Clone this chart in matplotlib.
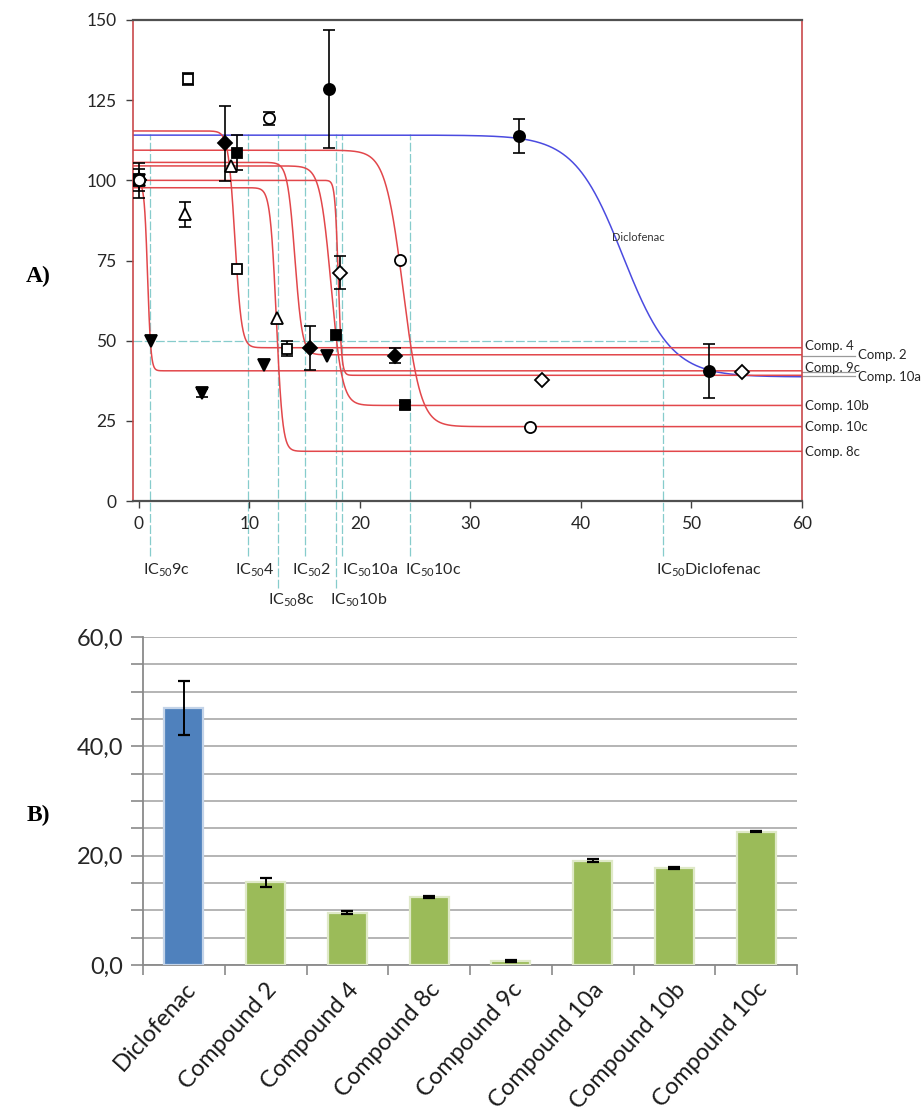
import numpy as np
import matplotlib
matplotlib.use("Agg")
import matplotlib.pyplot as plt
from matplotlib.ticker import FuncFormatter

plt.rcParams["font.family"] = ["Lato", "DejaVu Sans"]
plt.rcParams["mathtext.fontset"] = "custom"
plt.rcParams["mathtext.rm"] = "Lato"
plt.rcParams["mathtext.it"] = "Lato:italic"
plt.rcParams["mathtext.bf"] = "Lato:bold"

# ---------------- data ----------------
names = ["Diclofenac", "2", "4", "8c", "9c", "10a", "10b", "10c"]
bar_labels = ["Diclofenac", "Compound 2", "Compound 4", "Compound 8c",
              "Compound 9c", "Compound 10a", "Compound 10b", "Compound 10c"]

# measured points (concentration, % response, SD)
dic_x = [0, 17.2, 34.4, 51.6]
dic_y = [100, 128.4, 113.9, 40.6]
dic_e = [5.5, 18.4, 5.3, 8.5]

c2_x = [0, 7.8, 15.5, 23.2]
c2_y = [100, 111.5, 47.7, 45.3]
c2_e = [0, 11.7, 6.8, 2.3]

c4_x = [0, 4.5, 8.9, 13.4]
c4_y = [100, 131.6, 72.4, 47.5]
c4_e = [0, 1.9, 0, 2.4]

c8c_x = [0, 4.2, 8.35, 12.5]
c8c_y = [100, 89.4, 104.5, 57.1]
c8c_e = [0, 3.9, 0, 0]

c9c_x = [0, 1.07, 5.7, 11.3, 17.06]
c9c_y = [100, 49.8, 33.6, 42.5, 45.3]
c9c_e = [0, 0, 1.2, 0, 0]

c10a_x = [0, 18.2, 36.5, 54.6]
c10a_y = [100, 71.2, 37.8, 40.1]
c10a_e = [0, 5.2, 0, 0]

c10b_x = [0, 8.9, 17.85, 24.1]
c10b_y = [100, 108.6, 51.9, 29.8]
c10b_e = [0, 5.5, 0, 1.0]

c10c_x = [0, 11.8, 23.6, 35.4]
c10c_y = [100, 119.3, 75.1, 23.1]
c10c_e = [3.4, 2.0, 0, 0]

# fitted sigmoid parameters (top, bottom, midpoint, slope width)
fit_top = [114.1, 105.6, 115.4, 97.7, 99.5, 100.0, 104.5, 109.4]
fit_bottom = [38.7, 45.6, 47.8, 15.5, 40.6, 39.2, 29.8, 23.2]
fit_mid = [43.8, 14.13, 8.7, 12.45, 0.8, 18.05, 17.4, 23.9]
fit_width = [2.2, 0.335, 0.3, 0.28, 0.15, 0.15, 0.5, 0.8]

# IC50 marks on the dose-response plot
ic50_marks = [47.4, 15.0, 9.9, 12.6, 1.05, 18.4, 17.8, 24.5]

# IC50 summary (mean, SD)
ic50_mean = [47.0, 15.1, 9.6, 12.4, 0.8, 19.1, 17.7, 24.4]
ic50_sd = [5.0, 0.85, 0.2, 0.15, 0.2, 0.3, 0.15, 0.15]

# ---------------- styles / layout ----------------
series = [
    (dic_x, dic_y, dic_e, "o", "black", 8.0),
    (c2_x, c2_y, c2_e, "D", "black", 7.0),
    (c4_x, c4_y, c4_e, "s", "white", 7.5),
    (c8c_x, c8c_y, c8c_e, "^", "white", 8.0),
    (c9c_x, c9c_y, c9c_e, "v", "black", 8.0),
    (c10a_x, c10a_y, c10a_e, "D", "white", 7.0),
    (c10b_x, c10b_y, c10b_e, "s", "black", 7.5),
    (c10c_x, c10c_y, c10c_e, "o", "white", 8.0),
]
draw_order = [0, 1, 2, 3, 4, 5, 6, 7]

# right-hand curve labels: (pixel x offset, pixel y offset, leader line)
curve_tags = {"2": (56, 0, True), "4": (3, 2, False), "8c": (3, -1, False),
              "9c": (3, 3, True), "10a": (56, -2, True), "10b": (3, -1, False),
              "10c": (3, 0, False)}
# IC50 labels under the axis: (pixel x offset of text start, row)
ic_tags = {"Diclofenac": (-7, 0), "2": (-12.7, 0), "4": (-13.3, 0), "8c": (-10.3, 1),
           "9c": (-7.7, 0), "10a": (0, 0), "10b": (-5.3, 1), "10c": (-4.3, 0)}

W, H = 924, 1115
fig = plt.figure(figsize=(W / 100, H / 100), dpi=100)
fig.patch.set_facecolor("white")

RED = "#e2474b"
BLUE = "#4b4be0"
CYAN = "#86cccc"

# ================= panel A =================
axA = fig.add_axes([133 / W, 1 - 501 / H, (802 - 133) / W, (501 - 20) / H])
axA.set_xlim(-0.52, 60)
axA.set_ylim(0, 150)
px_per_y = (501 - 20) / 150.0

xx = np.linspace(-0.52, 60, 4000)
for i, n in enumerate(names):
    arg = np.clip((xx - fit_mid[i]) / fit_width[i], -60, 60)
    yy = fit_bottom[i] + (fit_top[i] - fit_bottom[i]) / (1 + np.exp(arg))
    axA.plot(xx, yy, color=BLUE if i == 0 else RED, lw=1.1, zorder=2)

# reference lines at 50 % and IC50 positions
axA.plot([-0.52, ic50_marks[0]], [50, 50], color=CYAN, lw=0.9,
         dashes=(7, 2), zorder=1)
for i, n in enumerate(names):
    dx, row = ic_tags[n]
    y_low = -(556 - 501) / px_per_y if row == 0 else -(588 - 501) / px_per_y
    y_high = 50 if i == 0 else fit_top[0] + 0.3
    axA.plot([ic50_marks[i]] * 2, [y_low, y_high], color=CYAN, lw=0.9,
             dashes=(7, 2), zorder=1, clip_on=False)
    ty = -(570 - 501) / px_per_y if row == 0 else -(600 - 501) / px_per_y
    axA.annotate(r"IC$_{\mathrm{50}}$" + n, xy=(ic50_marks[i], ty),
                 xytext=(dx, 0), textcoords="offset pixels",
                 ha="left", va="center", fontsize=11.5, color="#262626",
                 annotation_clip=False)

# points with error bars
for i in draw_order:
    x, y, e, mk, fc, ms = series[i]
    x = np.asarray(x); y = np.asarray(y); e = np.asarray(e)
    has = e > 0
    if has.any():
        axA.errorbar(x[has], y[has], yerr=e[has], fmt="none", ecolor="black",
                     elinewidth=1.2, capsize=4.5, capthick=1.2, zorder=4)
    axA.plot(x, y, linestyle="none", marker=mk, mfc=fc, mec="black",
             mew=1.3, ms=ms, zorder=5)

# curve labels at the right edge
for i, n in enumerate(names):
    if n == "Diclofenac":
        continue
    dx, dy, leader = curve_tags[n]
    yb = fit_bottom[i]
    if leader:
        axA.plot([60, 60 + 53 / 11.05], [yb - 0.3, yb - 0.3], color="#9a9a9a",
                 lw=0.9, clip_on=False, zorder=1)
    axA.annotate("Comp. " + n, xy=(60, yb), xytext=(dx, dy),
                 textcoords="offset pixels", ha="left", va="center",
                 fontsize=9.5, color="#262626", annotation_clip=False)

axA.text(42.8, 82.2, "Diclofenac", fontsize=8, color="#333333",
         ha="left", va="center")

axA.set_xticks(np.arange(0, 61, 10))
axA.set_yticks(np.arange(0, 151, 25))
axA.tick_params(axis="both", direction="out", length=5, width=1.0,
                color="#404040", labelsize=12.5, labelcolor="#262626")
axA.tick_params(axis="y", pad=7)
axA.tick_params(axis="x", pad=6)
for s in ("left", "right"):
    axA.spines[s].set_color("#c9494b")
    axA.spines[s].set_linewidth(1.2)
for s in ("top", "bottom"):
    axA.spines[s].set_color("#505050")
    axA.spines[s].set_linewidth(1.6)

# ================= panel B =================
axB = fig.add_axes([143 / W, 1 - 965 / H, (797 - 143) / W, (965 - 637) / H])
xpos = np.arange(len(bar_labels))
bar_colors = ["#4f81bd"] + ["#9bbb59"] * 7
bar_edges = ["#c3d3e8"] + ["#dfe9c8"] * 7
axB.bar(xpos, ic50_mean, width=0.48, color=bar_colors, edgecolor=bar_edges,
        linewidth=1.6, zorder=3)
axB.errorbar(xpos, ic50_mean, yerr=ic50_sd, fmt="none", ecolor="black",
             elinewidth=1.4, capsize=4, capthick=1.6, zorder=4)
axB.set_xlim(-0.5, 7.5)
axB.set_ylim(0, 60)
axB.set_yticks(np.arange(0, 61, 5))
axB.yaxis.set_major_formatter(FuncFormatter(
    lambda v, p: (f"{v:.1f}".replace(".", ",") if abs(v % 20) < 1e-6 else "")))
axB.yaxis.grid(True, color="#a8a8a8", lw=1.2)
axB.set_axisbelow(True)
axB.set_xticks(xpos)
axB.set_xticklabels(bar_labels, rotation=48, ha="right", rotation_mode="anchor",
                    fontsize=17, color="#1a1a1a")
axB.set_xticks(np.arange(-0.5, 8, 1), minor=True)
axB.tick_params(axis="x", which="major", length=0, pad=10)
axB.tick_params(axis="x", which="minor", length=7, color="#8a8a8a", width=1.2)
axB.tick_params(axis="y", length=9, color="#8a8a8a", width=1.2,
                labelsize=17, labelcolor="#262626", pad=5)
for s in ("top", "right"):
    axB.spines[s].set_visible(False)
for s in ("left", "bottom"):
    axB.spines[s].set_color("#8a8a8a")
    axB.spines[s].set_linewidth(1.3)

# panel letters
fig.text(38 / W, 1 - 276 / H, "A)", family=["Liberation Serif"], weight="bold",
         fontsize=17, ha="center", va="center")
fig.text(38 / W, 1 - 815 / H, "B)", family=["Liberation Serif"], weight="bold",
         fontsize=17, ha="center", va="center")

fig.savefig("out.png", dpi=100, facecolor="white")
